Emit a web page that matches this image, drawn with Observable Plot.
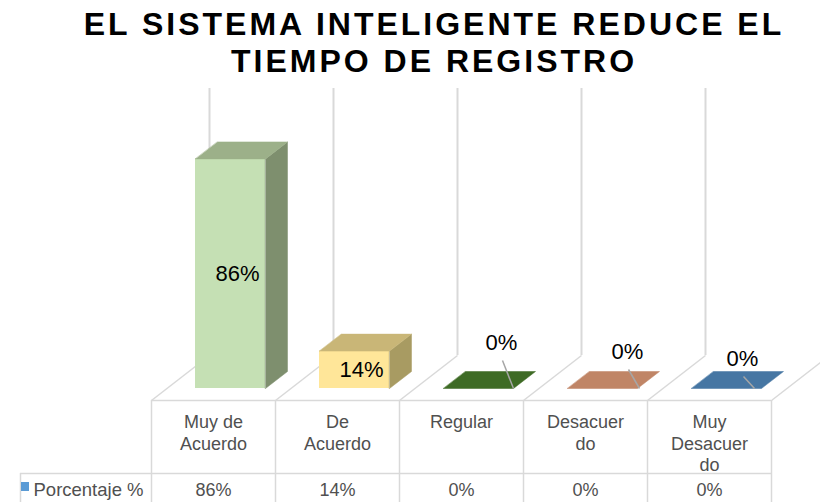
<!DOCTYPE html>
<html>
<head>
<meta charset="utf-8">
<script src="https://cdn.jsdelivr.net/npm/d3@7"></script>
<script src="https://cdn.jsdelivr.net/npm/@observablehq/plot@0.6"></script>
<style>
  html, body { margin: 0; padding: 0; background: #fff; }
  #title {
    width: 820px; box-sizing: border-box; height: 84px;
    padding: 6px 0 0 48px; text-align: center;
    font-family: "Liberation Sans", Arial, sans-serif; font-weight: bold;
    font-size: 32px; letter-spacing: 3px; line-height: 37px; color: #000;
  }
  svg { display: block; }
</style>
</head>
<body>
<div id="title">EL SISTEMA INTELIGENTE REDUCE EL<br>TIEMPO DE REGISTRO</div>
<div id="chart"></div>
<script>
// ---- data ----
const categories = ["Muy de Acuerdo", "De Acuerdo", "Regular", "Desacuerdo", "Muy Desacuerdo"];
const tickLabels = ["Muy de\nAcuerdo", "De\nAcuerdo", "Regular", "Desacuer\ndo", "Muy\nDesacuer\ndo"];
const values = [86, 14, 0, 0, 0];
const valueLabels = ["86%", "14%", "0%", "0%", "0%"];
const seriesName = "Porcentaje %";
const frontColors = ["#c5e0b4", "#ffe699", "#3e6b25", "#c08566", "#4676a3"];
const sideColors  = ["#7e8f6e", "#a89b62", "#3e6b25", "#c08566", "#4676a3"];
const topColors   = ["#9cb089", "#c9b677", "#3e6b25", "#c08566", "#4676a3"];

// ---- layout (pixels) ----
const U = 124;            // px per category column
const K = 267 / 100;      // px per percent
const ux = p => p / U, uy = p => p / K;
const BAR_L = 44, BAR_R = 114, DEPTH_X = 22, DEPTH_Y = 17;
const FLOOR_DX = 58, FLOOR_FRONT = -12, FLOOR_BACK = 33, GRID_TOP = 300;
const TABLE_MID = -85, TABLE_BOT = -120, TABLE_LEFT = -131;
const zeroLabelPos = [[102, 46], [104, 37], [95, 30]];

const idx = d3.range(categories.length);
const bars = idx.map(i => ({
  i, v: values[i],
  x1: i + ux(BAR_L), x2: i + ux(BAR_R)
}));
const dx = ux(DEPTH_X), dy = uy(DEPTH_Y);

const faces = [];
bars.forEach(b => {
  if (b.v > 0) {
    [[b.x2, 0], [b.x2 + dx, dy], [b.x2 + dx, b.v + dy], [b.x2, b.v]]
      .forEach(([x, y]) => faces.push({face: "s" + b.i, x, y, c: sideColors[b.i]}));
  }
  [[b.x1, b.v], [b.x2, b.v], [b.x2 + dx, b.v + dy], [b.x1 + dx, b.v + dy]]
    .forEach(([x, y]) => faces.push({face: "t" + b.i, x, y, c: b.v > 0 ? topColors[b.i] : frontColors[b.i]}));
});

const labels = bars.map(b => {
  if (b.v > 0) return {x: b.i + ux(86), y: b.v / 2, t: valueLabels[b.i], zero: false};
  const [px, py] = zeroLabelPos[b.i - 2];
  return {x: b.i + ux(px), y: uy(py), t: valueLabels[b.i], zero: true};
});
const leaders = labels.filter(l => l.zero).map(l => ({
  x1: l.x + ux(1), y1: l.y - uy(18), x2: l.x + ux(12), y2: 0
}));

const grid = "#d9d9d9";
const tableText = "#505050";
const cols = d3.range(categories.length + 1);

const chart = Plot.plot({
  width: 820, height: 418,
  marginLeft: 151, marginRight: 49, marginTop: 37, marginBottom: 114,
  x: {domain: [0, categories.length], axis: null},
  y: {domain: [0, 100], axis: null},
  style: {fontFamily: "'Liberation Sans', Arial, sans-serif", background: "#fff"},
  marks: [
    // back wall divisions
    Plot.ruleX(cols, {x: d => d + ux(FLOOR_DX), y1: uy(FLOOR_BACK), y2: uy(GRID_TOP), stroke: grid, strokeWidth: 2}),
    // floor diagonals
    Plot.link(cols, {x1: d => d, y1: uy(FLOOR_FRONT), x2: d => d + ux(FLOOR_DX), y2: uy(FLOOR_BACK), stroke: grid, strokeWidth: 1.5}),
    // bar front faces
    Plot.rect(bars.filter(b => b.v > 0), {x1: "x1", x2: "x2", y1: 0, y2: "v", fill: b => frontColors[b.i]}),
    // bar side/top faces
    Plot.line(faces, {x: "x", y: "y", z: "face", fill: "c", stroke: "c", strokeWidth: 0.5, curve: "linear-closed"}),
    // leader lines
    Plot.link(leaders, {x1: "x1", y1: "y1", x2: "x2", y2: "y2", stroke: "#a6a6a6", strokeWidth: 1.5}),
    // data labels
    Plot.text(labels, {x: "x", y: "y", text: "t", fontSize: 22, fill: "#000"}),
    // data table lines
    Plot.ruleY([uy(FLOOR_FRONT)], {x1: 0, x2: categories.length, stroke: grid, strokeWidth: 1.5}),
    Plot.ruleY([uy(TABLE_MID)], {x1: ux(TABLE_LEFT), x2: categories.length, stroke: grid, strokeWidth: 1.5}),
    Plot.ruleX(cols, {y1: uy(FLOOR_FRONT), y2: uy(TABLE_BOT), stroke: grid, strokeWidth: 1.5}),
    Plot.ruleX([ux(TABLE_LEFT)], {y1: uy(TABLE_MID), y2: uy(TABLE_BOT), stroke: grid, strokeWidth: 1.5}),
    // category labels
    Plot.text(idx, {x: i => i + 0.5, y: uy(-25), text: i => tickLabels[i], lineAnchor: "top", lineHeight: 1.17, fontSize: 18, fill: tableText}),
    // values row
    Plot.text(idx, {x: i => i + 0.5, y: uy(-102), text: i => valueLabels[i], fontSize: 18, fill: tableText}),
    // series key + name
    Plot.rect([0], {x1: ux(-130), x2: ux(-122), y1: uy(-94), y2: uy(-103), fill: "#5b9bd5"}),
    Plot.text([seriesName], {x: ux(-118), y: uy(-102), text: d => d, textAnchor: "start", fontSize: 18.5, fill: tableText})
  ]
});
document.getElementById("chart").append(chart);
</script>
</body>
</html>
